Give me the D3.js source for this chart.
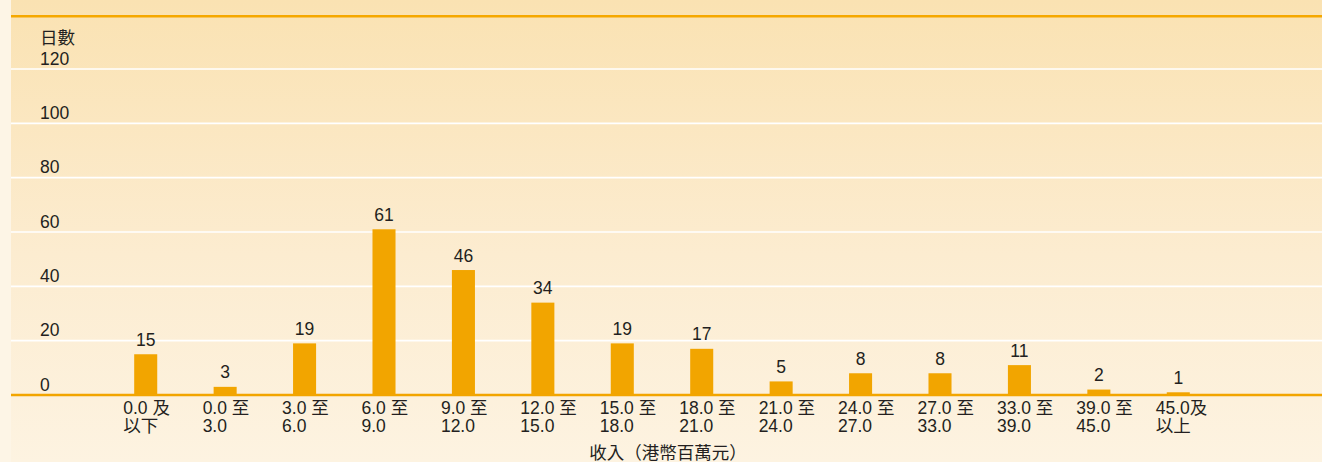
<!DOCTYPE html>
<html>
<head>
<meta charset="utf-8">
<script src="https://cdn.jsdelivr.net/npm/d3@7"></script>
<style>
  html, body { margin: 0; padding: 0; background: #fdf5e6; }
  svg { display: block; }
  text { font-family: "Liberation Sans", Arial, "Noto Sans CJK TC", sans-serif; fill: #231f20; }
</style>
</head>
<body>
<svg id="chart" width="1322" height="462"></svg>
<script>
// Income bands (HK$ million), two lines per label
const categories = [
  ["0.0 及", "以下"], ["0.0 至", "3.0"], ["3.0 至", "6.0"], ["6.0 至", "9.0"],
  ["9.0 至", "12.0"], ["12.0 至", "15.0"], ["15.0 至", "18.0"], ["18.0 至", "21.0"],
  ["21.0 至", "24.0"], ["24.0 至", "27.0"], ["27.0 至", "33.0"], ["33.0 至", "39.0"],
  ["39.0 至", "45.0"], ["45.0及", "以上"]
];
// Number of days in each band
const days = [15, 3, 19, 61, 46, 34, 19, 17, 5, 8, 8, 11, 2, 1];
const yTicks = [0, 20, 40, 60, 80, 100, 120];
const yTitle = "日數";
const xTitle = "收入（港幣百萬元）";

const W = 1322, H = 462;
const FS = 17.5;
const svg = d3.select("#chart");
const defs = svg.append("defs");

const bg = defs.append("linearGradient").attr("id", "bg").attr("x1", 0).attr("y1", 0).attr("x2", 0).attr("y2", 1);
bg.append("stop").attr("offset", "0%").attr("stop-color", "#fae2b2");
bg.append("stop").attr("offset", "55%").attr("stop-color", "#fcecd0");
bg.append("stop").attr("offset", "100%").attr("stop-color", "#fdf3e1");

const panelLeft = 11;
svg.append("rect").attr("x", panelLeft).attr("y", 0).attr("width", W - panelLeft).attr("height", H).attr("fill", "url(#bg)");

// top rule
svg.append("rect").attr("x", panelLeft).attr("y", 15).attr("width", W - panelLeft).attr("height", 2.5).attr("fill", "#f5a800");

const x = d3.scaleBand().domain(d3.range(categories.length)).range([106, 1218]).paddingInner(0.71).paddingOuter(0.355);
const y = d3.scaleLinear().domain([0, 120]).range([395, 69]);

// gridlines
svg.append("g").selectAll("line").data(yTicks.filter(d => d > 0)).join("line")
  .attr("x1", panelLeft).attr("x2", W)
  .attr("y1", d => y(d)).attr("y2", d => y(d))
  .attr("stroke", "#ffffff").attr("stroke-width", 1.6);

// y tick labels, sitting above their gridlines
svg.append("g").selectAll("text").data(yTicks).join("text")
  .attr("x", 40).attr("y", d => y(d) - 4.5)
  .attr("font-size", FS)
  .text(d => d);

svg.append("text").attr("x", 40).attr("y", 44).attr("font-size", FS).text(yTitle);

// bars
svg.append("g").selectAll("rect").data(days).join("rect")
  .attr("x", (d, i) => x(i))
  .attr("y", d => y(d))
  .attr("width", x.bandwidth())
  .attr("height", d => y(0) - y(d))
  .attr("fill", "#f2a500");

// value labels
svg.append("g").selectAll("text").data(days).join("text")
  .attr("x", (d, i) => x(i) + x.bandwidth() / 2)
  .attr("y", d => y(d) - 8.5)
  .attr("text-anchor", "middle")
  .attr("font-size", FS)
  .text(d => d);

// baseline
svg.append("line").attr("x1", panelLeft).attr("x2", W).attr("y1", y(0)).attr("y2", y(0))
  .attr("stroke", "#f2a500").attr("stroke-width", 2.5);

// category labels
const cat = svg.append("g").selectAll("text").data(categories).join("text")
  .attr("x", (d, i) => x(i) - 11)
  .attr("y", 413.5)
  .attr("font-size", FS);
cat.append("tspan").text(d => d[0]);
cat.append("tspan").attr("x", (d, i) => x(i) - 11).attr("dy", 18.3).text(d => d[1]);

svg.append("text").attr("x", 668).attr("y", 459).attr("text-anchor", "middle").attr("font-size", FS).text(xTitle);
</script>
</body>
</html>
